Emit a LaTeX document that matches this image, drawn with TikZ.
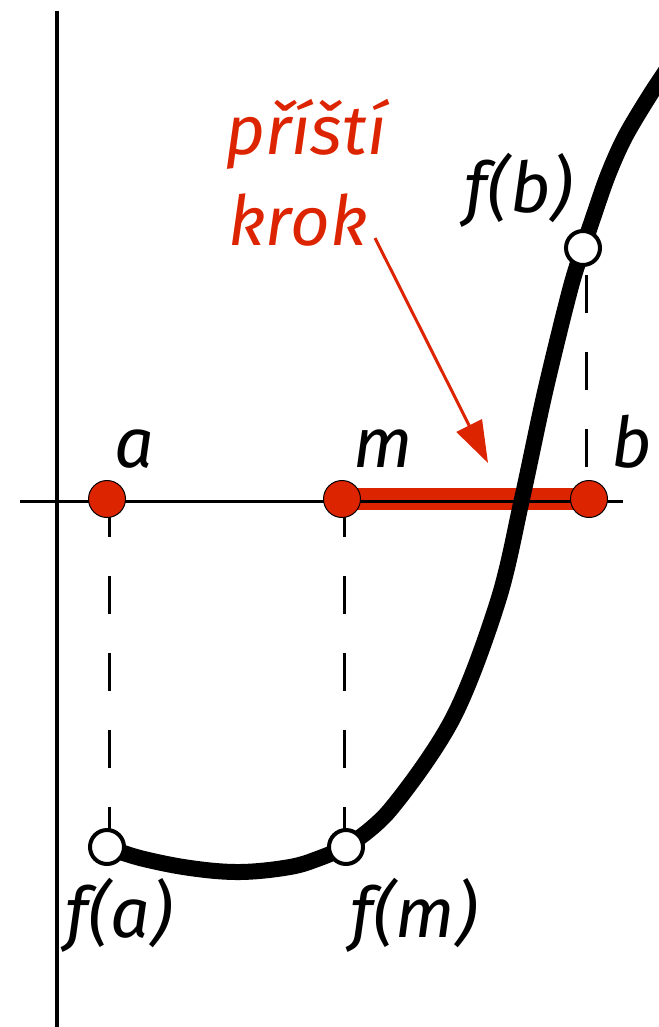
\documentclass[tikz,border=0pt]{standalone}
\usepackage{fontspec}
\setmainfont{Fira Sans}
\usetikzlibrary{arrows.meta,backgrounds}
\definecolor{hred}{RGB}{221,36,0}
\begin{document}
\begin{tikzpicture}[x=1pt,y=-1pt,
  lbl/.style={font=\fontsize{70}{84}\selectfont\itshape, anchor=base, inner sep=0pt},
  rlbl/.style={lbl, text=hred, font=\fontsize{69}{83}\selectfont\itshape},
  reddot/.style={circle, fill=hred, draw=black, line width=1pt, minimum size=37pt, inner sep=0pt},
  opendot/.style={circle, fill=white, draw=black, line width=4pt, minimum size=34pt, inner sep=0pt},
  guide/.style={line width=3pt, dash pattern=on 38pt off 39pt},
  axisline/.style={line width=3pt},
  yaxisline/.style={line width=4pt},
  curve/.style={line width=16pt},
  bar/.style={line width=22pt, hred},
  pointer/.style={hred, line width=3pt, -{Triangle[length=42pt,width=28pt]}}
]
\useasboundingbox (0,0) rectangle (658,1027);
\clip (0,0) rectangle (658,1027);
% axes end points
\coordinate (xl) at (20,501);
\coordinate (xr) at (623,501);
\coordinate (yt) at (57,11);
\coordinate (yb) at (57,1032);
% points on the x axis
\node[reddot] (a) at (107,499) {};
\node[reddot] (m) at (342,499) {};
\node[reddot] (b) at (589,499) {};
% points on the curve
\node[opendot] (fa) at (107,847) {};
\node[opendot] (fm) at (346,847) {};
\node[opendot] (fb) at (583,248) {};
\begin{scope}[on background layer]
  \draw[bar] (m.center) -- (b.center);
  \draw[axisline] (xl) -- (xr);
  \draw[yaxisline] (yt) -- (yb);
  \draw[guide] (109,499) -- (109,847);
  \draw[guide] (344,499) -- (344,847);
  \draw[guide, dash phase=50pt] (586,248) -- (586,499);
  \draw[curve] plot[smooth, tension=0.6] coordinates {(fa.center) (140,858) (190,868) (240,872) (290,867) (320,858) (fm.center)};
  \draw[curve] plot[smooth, tension=0.55] coordinates {(fm.center) (390,810) (453,718) (498,601) (522,499) (545,392) (570,290) (fb.center) (594,215) (608,175) (625,137) (650,95) (672,62)};
\end{scope}
% labels
\node[lbl] (la) at (134,467) {a};
\node[lbl] (lm) at (383,467) {m};
\node[lbl] (lb) at (632,467) {b};
\node[lbl] (lfb) at (519,212) {f(b)};
\node[lbl] (lfa) at (119,937) {f(a)};
\node[lbl] (lfm) at (414,937) {f(m)};
\node[rlbl] (t1) at (306,155) {příští};
\node[rlbl] (t2) at (298,245) {krok};
% pointer
\coordinate (ps) at (375,238);
\coordinate (pe) at (488,463);
\draw[pointer] (ps) -- (pe);
\end{tikzpicture}
\end{document}
